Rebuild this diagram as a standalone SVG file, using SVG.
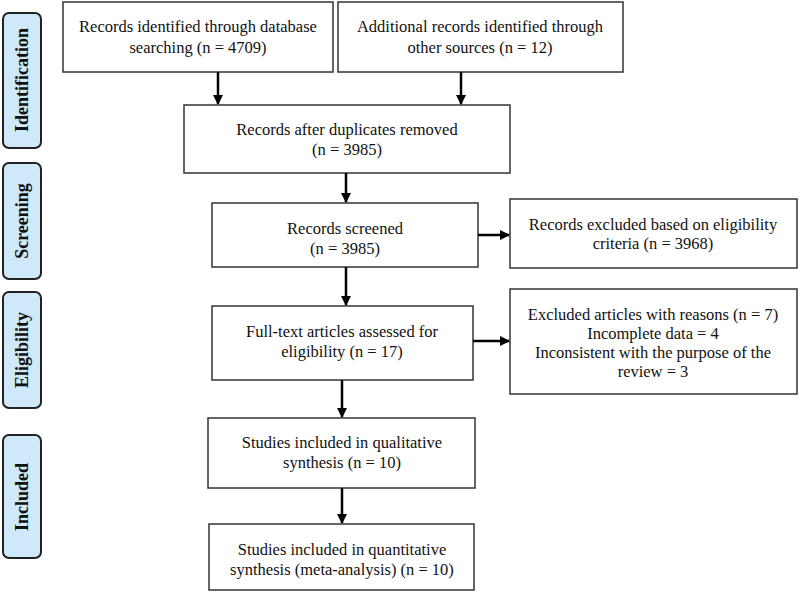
<svg xmlns="http://www.w3.org/2000/svg" width="800" height="593" viewBox="0 0 800 593">
<defs>
<marker id="ah" markerWidth="10" markerHeight="10" refX="9" refY="5" orient="auto" markerUnits="userSpaceOnUse">
<path d="M0,0 L10,5 L0,10 Z" fill="#000"/>
</marker>
<style>
.box{fill:#fff;stroke:#333;stroke-width:1.5}
.side{fill:#cfe9fa;stroke:#222;stroke-width:2}
.t{font-family:"Liberation Serif","Times New Roman",serif;font-size:16.5px;fill:#111;text-anchor:middle}
.s{font-family:"Liberation Serif","Times New Roman",serif;font-size:18px;font-weight:bold;fill:#111;text-anchor:middle}
.c{stroke:#000;stroke-width:2.5;fill:none;marker-end:url(#ah)}
</style>
</defs>
<rect width="800" height="593" fill="#fff"/>
<g id="phase-identification"><rect class="side" x="3" y="13" width="38" height="135" rx="6"/><text class="s" transform="translate(28,80) rotate(-90)">Identification</text></g>
<g id="phase-screening"><rect class="side" x="3" y="163" width="38" height="116" rx="6"/><text class="s" transform="translate(28,221) rotate(-90)">Screening</text></g>
<g id="phase-eligibility"><rect class="side" x="3" y="292" width="38" height="116" rx="6"/><text class="s" transform="translate(28,350) rotate(-90)">Eligibility</text></g>
<g id="phase-included"><rect class="side" x="3" y="435" width="38" height="123" rx="6"/><text class="s" transform="translate(28,497) rotate(-90)">Included</text></g>

<g id="db"><rect class="box" x="63" y="2" width="270" height="70"/><text class="t" x="198" y="32">Records identified through database</text><text class="t" x="198" y="53">searching (n = 4709)</text></g>
<g id="other"><rect class="box" x="338" y="2" width="285" height="70"/><text class="t" x="480" y="32">Additional records identified through</text><text class="t" x="480" y="53">other sources (n = 12)</text></g>
<g id="dup"><rect class="box" x="184" y="105" width="326" height="68"/><text class="t" x="347" y="135">Records after duplicates removed</text><text class="t" x="347" y="155">(n = 3985)</text></g>
<g id="screened"><rect class="box" x="212" y="203" width="266" height="64"/><text class="t" x="345" y="234">Records screened</text><text class="t" x="345" y="254">(n = 3985)</text></g>
<g id="excl1"><rect class="box" x="510" y="199" width="287" height="69"/><text class="t" x="653" y="230">Records excluded based on eligibility</text><text class="t" x="653" y="249">criteria (n = 3968)</text></g>
<g id="fulltext"><rect class="box" x="212" y="306" width="261" height="74"/><text class="t" x="342" y="337">Full-text articles assessed for</text><text class="t" x="342" y="357">eligibility (n = 17)</text></g>
<g id="excl2"><rect class="box" x="510" y="289" width="287" height="105"/><text class="t" x="653" y="320">Excluded articles with reasons (n = 7)</text><text class="t" x="653" y="339">Incomplete data = 4</text><text class="t" x="653" y="358">Inconsistent with the purpose of the</text><text class="t" x="653" y="377">review = 3</text></g>
<g id="qual"><rect class="box" x="208" y="418" width="267" height="70"/><text class="t" x="342" y="448">Studies included in qualitative</text><text class="t" x="342" y="468">synthesis (n = 10)</text></g>
<g id="quant"><rect class="box" x="209" y="524" width="265" height="66"/><text class="t" x="342" y="555">Studies included in quantitative</text><text class="t" x="342" y="575">synthesis (meta-analysis) (n = 10)</text></g>

<g id="connectors">
<line class="c" x1="218" y1="72" x2="218" y2="104"/>
<line class="c" x1="461" y1="72" x2="461" y2="104"/>
<line class="c" x1="346" y1="173" x2="346" y2="202"/>
<line class="c" x1="346" y1="267" x2="346" y2="305"/>
<line class="c" x1="478" y1="235" x2="509" y2="235"/>
<line class="c" x1="473" y1="341" x2="509" y2="341"/>
<line class="c" x1="342" y1="380" x2="342" y2="417"/>
<line class="c" x1="342" y1="488" x2="342" y2="523"/>
</g>
</svg>
